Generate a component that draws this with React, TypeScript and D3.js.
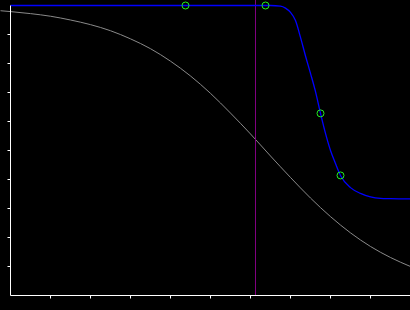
import React from "react";
import * as d3 from "d3";

const W = 410;
const H = 310;

// gray reference curve (x in 0..10, y in 0..1)
const grayX = [-0.25, 0, 0.5, 1, 1.5, 2, 2.5, 3, 3.5, 4, 4.5, 5, 5.5, 6, 6.5, 7, 7.5, 8, 8.5, 9, 9.5, 10];
const grayY = [0.982, 0.979, 0.972, 0.963, 0.95, 0.934, 0.913, 0.885, 0.851, 0.808, 0.757, 0.697, 0.629, 0.557, 0.481, 0.407, 0.336, 0.272, 0.216, 0.169, 0.131, 0.1];

// blue edited curve
const blueX = [0, 2, 4, 6, 6.5, 6.75, 6.875, 7.0, 7.125, 7.25, 7.375, 7.5, 7.625, 7.75, 7.875, 8.0, 8.125, 8.25, 8.5, 8.75, 9.0, 9.25, 9.5, 10];
const blueY = [1, 1, 1, 1, 1, 0.998, 0.991, 0.976, 0.948, 0.89, 0.826, 0.766, 0.703, 0.628, 0.559, 0.5, 0.455, 0.414, 0.372, 0.352, 0.34, 0.335, 0.334, 0.333];

// control points
const ctrlX = [4.375, 6.375, 7.75, 8.25];
const ctrlY = [1, 1, 0.628, 0.414];

// marker position
const markerX = 6.125;

const xTicks = [1, 2, 3, 4, 5, 6, 7, 8, 9];
const yTicks = [0.1, 0.2, 0.3, 0.4, 0.5, 0.6, 0.7, 0.8, 0.9];

export default function App() {
  const x = d3.scaleLinear().domain([0, 10]).range([10.5, 410.5]);
  const y = d3.scaleLinear().domain([0, 1]).range([295.5, 5.5]);

  const line = d3
    .line<[number, number]>()
    .x((d) => x(d[0]))
    .y((d) => y(d[1]))
    .curve(d3.curveMonotoneX);

  const grayPts: [number, number][] = grayX.map((v, i) => [v, grayY[i]]);
  const bluePts: [number, number][] = blueX.map((v, i) => [v, blueY[i]]);

  return (
    <svg
      width={W}
      height={H}
      style={{ position: "absolute", left: 0, top: 0, background: "#000", display: "block" }}
    >
      <rect x={0} y={0} width={W} height={H} fill="#000" />
      <path d={line(grayPts) || ""} fill="none" stroke="#8a8a8a" strokeWidth={1} />
      <line x1={x(markerX)} x2={x(markerX)} y1={0} y2={y(0)} stroke="#800080" strokeWidth={1} />
      <path d={line(bluePts) || ""} fill="none" stroke="#0000ff" strokeWidth={1.3} />
      {ctrlX.map((cx, i) => (
        <circle key={i} cx={x(cx)} cy={y(ctrlY[i])} r={3.5} fill="none" stroke="#22ee22" strokeWidth={1} />
      ))}
      {/* axes */}
      <line x1={x(0)} x2={x(0)} y1={y(1)} y2={y(0)} stroke="#fff" strokeWidth={1} />
      <line x1={x(0)} x2={x(10)} y1={y(0)} y2={y(0)} stroke="#fff" strokeWidth={1} />
      {yTicks.map((t) => (
        <line key={"y" + t} x1={x(0) - 3} x2={x(0)} y1={y(t)} y2={y(t)} stroke="#fff" strokeWidth={1} />
      ))}
      {xTicks.map((t) => (
        <line key={"x" + t} x1={x(t)} x2={x(t)} y1={y(0)} y2={y(0) + 3} stroke="#fff" strokeWidth={1} />
      ))}
    </svg>
  );
}
